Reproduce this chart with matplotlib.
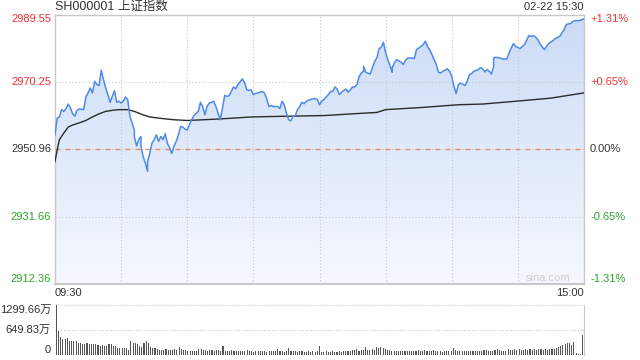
import matplotlib
matplotlib.use('Agg')
import matplotlib.pyplot as plt
import numpy as np
from matplotlib.colors import LinearSegmentedColormap

plt.rcParams['font.family'] = ['Liberation Sans', 'Noto Sans CJK SC', 'DejaVu Sans']

title = 'SH000001 上证指数'
stamp = '02-22 15:30'
prev_close = 2950.96
price_ticks = [2989.55, 2970.25, 2950.96, 2931.66, 2912.36]
pct_labels = ['+1.31%', '+0.65%', '0.00%', '-0.65%', '-1.31%']
tick_colors = ['#f0302f', '#f0302f', '#333333', '#2aa52a', '#2aa52a']
time_labels = ['09:30', '15:00']
vol_ticks = [1299.66, 649.83, 0]
vol_labels = ['1299.66万', '649.83万', '0']

# (minute since 09:30, price)
price_pts = [
    (0, 2955.1), (1, 2959.9), (2, 2960.2), (3, 2962.3), (4, 2961.8), (5, 2962.6), (6, 2963.9), (7, 2962.8), (8, 2961.1), (9, 2960.4),
    (10, 2962.1), (11, 2962.5), (13, 2962.3), (14, 2965.9), (15, 2967.1), (16, 2968.5), (17, 2967.1), (18, 2970.4), (19, 2969.5), (20, 2969.2),
    (21, 2973.6), (22, 2970.9), (23, 2968.5), (24, 2966.6), (25, 2964.4), (26, 2966.1), (27, 2967.7), (28, 2964.4), (29, 2964.7), (30, 2964.2),
    (31, 2964.7), (32, 2965.9), (33, 2965.2), (34, 2960.4), (35, 2958.5), (36, 2956.5), (36, 2954.6), (37, 2951.9), (38, 2953.7), (39, 2954.6),
    (39, 2951.8), (40, 2948.9), (41, 2947.0), (42, 2944.6), (42, 2947.4), (43, 2949.8), (44, 2952.7), (45, 2953.7), (46, 2955.1), (47, 2953.2),
    (48, 2954.6), (49, 2953.7), (50, 2955.4), (51, 2952.7), (52, 2951.3), (53, 2949.8), (54, 2951.9), (55, 2953.2), (56, 2955.1), (57, 2957.5),
    (58, 2957.3), (59, 2956.7), (60, 2956.5), (61, 2958.0), (62, 2959.4), (63, 2960.6), (65, 2961.8), (66, 2964.4), (67, 2963.2), (68, 2960.8),
    (69, 2963.2), (70, 2964.2), (71, 2964.4), (72, 2964.7), (73, 2963.2), (74, 2961.3), (75, 2959.4), (76, 2962.8), (77, 2966.4), (78, 2966.1),
    (79, 2966.3), (80, 2967.5), (81, 2968.8), (82, 2968.3), (83, 2969.5), (85, 2971.1), (86, 2970.1), (87, 2968.0), (88, 2967.8), (89, 2968.0),
    (90, 2966.6), (91, 2966.9), (92, 2967.1), (94, 2967.5), (95, 2967.1), (96, 2965.6), (97, 2963.2), (98, 2963.5), (99, 2963.2), (101, 2963.2),
    (102, 2962.6), (103, 2964.7), (104, 2963.7), (105, 2961.3), (106, 2959.4), (107, 2959.1), (108, 2960.4), (109, 2960.6), (110, 2962.3), (111, 2963.2),
    (112, 2964.4), (113, 2964.0), (114, 2964.7), (115, 2965.0), (116, 2965.2), (118, 2965.5), (119, 2965.2), (120, 2963.7), (121, 2964.7), (122, 2965.2),
    (123, 2965.9), (124, 2966.6), (125, 2967.5), (126, 2967.5), (127, 2968.8), (128, 2968.2), (129, 2966.6), (130, 2967.3), (131, 2967.8), (132, 2968.2),
    (133, 2967.3), (134, 2968.0), (135, 2968.8), (136, 2968.8), (137, 2969.5), (138, 2971.8), (139, 2972.8), (140, 2973.3), (140, 2974.7), (141, 2973.0),
    (143, 2972.5), (144, 2974.3), (145, 2976.1), (146, 2977.1), (147, 2979.7), (148, 2980.2), (149, 2981.6), (150, 2978.7), (151, 2976.6), (152, 2974.9),
    (153, 2973.0), (153, 2974.3), (154, 2975.7), (155, 2976.6), (157, 2975.9), (158, 2975.2), (159, 2976.4), (160, 2977.1), (162, 2977.1), (163, 2976.9),
    (164, 2979.5), (166, 2980.4), (167, 2980.9), (168, 2981.9), (169, 2980.4), (170, 2979.5), (171, 2978.1), (172, 2976.6), (173, 2975.2), (174, 2973.0),
    (175, 2972.8), (176, 2973.3), (178, 2974.0), (179, 2973.3), (180, 2971.8), (181, 2969.0), (182, 2966.9), (183, 2969.5), (184, 2969.9), (186, 2969.2),
    (187, 2970.4), (188, 2972.3), (189, 2972.6), (190, 2973.3), (191, 2973.5), (192, 2973.8), (193, 2974.3), (194, 2974.0), (195, 2973.1), (196, 2973.8),
    (197, 2973.3), (198, 2972.5), (199, 2974.7), (199, 2977.1), (200, 2977.3), (202, 2977.1), (203, 2976.8), (204, 2976.8), (205, 2976.8), (206, 2978.5),
    (207, 2980.0), (208, 2981.2), (209, 2980.4), (211, 2979.8), (212, 2980.4), (213, 2980.9), (214, 2982.2), (215, 2983.5), (216, 2983.3), (217, 2983.5),
    (218, 2983.1), (219, 2982.4), (220, 2981.2), (221, 2980.3), (222, 2979.5), (223, 2980.4), (224, 2981.2), (225, 2981.7), (226, 2982.1), (227, 2982.7),
    (228, 2982.9), (229, 2983.3), (230, 2984.3), (231, 2985.2), (232, 2986.7), (234, 2987.0), (235, 2987.6), (236, 2987.8), (237, 2987.8), (238, 2987.8),
    (240, 2988.3),
]

avg_pts = [
    (0, 2947.4), (1, 2950.8), (2, 2953.7), (4, 2955.6), (6, 2957.3), (8, 2957.9), (11, 2958.5), (14, 2959.2), (17, 2960.2),
    (20, 2961.1), (23, 2961.8), (26, 2962.1), (29, 2962.3), (33, 2962.3), (36, 2961.8), (40, 2960.8), (43, 2960.2), (48, 2959.8),
    (54, 2959.4), (60, 2959.2), (74, 2959.6), (89, 2960.2), (104, 2960.4), (122, 2960.6), (135, 2961.1), (146, 2961.5), (150, 2962.3),
    (166, 2962.9), (183, 2963.7), (194, 2963.9), (209, 2964.7), (225, 2965.6), (240, 2967.1),
]

# volume per minute, in 万
volume = [
    1299.66, 633, 477, 407, 407, 433, 373, 365, 365, 365,
    320, 303, 286, 286, 303, 286, 295, 286, 295, 260,
    234, 260, 243, 234, 286, 277, 243, 243, 173, 173,
    173, 182, 173, 130, 373, 303, 303, 277, 243, 217,
    303, 355, 303, 217, 173, 173, 147, 130, 130, 130,
    147, 130, 130, 130, 147, 130, 200, 147, 130, 130,
    110, 104, 110, 104, 104, 147, 147, 130, 120, 104,
    130, 130, 110, 130, 130, 104, 234, 110, 110, 104,
    120, 104, 95, 104, 95, 104, 110, 130, 104, 95,
    87, 95, 104, 110, 104, 95, 87, 104, 95, 104,
    95, 147, 104, 95, 87, 104, 173, 110, 95, 104,
    87, 95, 104, 87, 78, 95, 87, 104, 87, 95,
    234, 87, 87, 95, 87, 87, 95, 78, 87, 95,
    87, 104, 95, 110, 104, 120, 130, 147, 110, 120,
    130, 200, 130, 120, 147, 130, 217, 173, 200, 190,
    147, 130, 120, 104, 95, 104, 95, 104, 110, 95,
    104, 110, 104, 95, 110, 120, 110, 104, 120, 110,
    95, 104, 120, 110, 104, 95, 87, 95, 104, 110,
    95, 173, 130, 110, 95, 104, 110, 104, 95, 110,
    104, 95, 104, 95, 110, 120, 130, 110, 104, 95,
    130, 147, 130, 110, 104, 110, 147, 120, 130, 147,
    130, 147, 130, 120, 147, 130, 147, 130, 147, 120,
    147, 147, 130, 147, 130, 147, 160, 147, 173, 200,
    234, 260, 277, 303, 320, 260, 347, 40, 30, 30,
    520,
]

W, H = 640, 360
grid_c = '#c8c8c8'
text_c = '#333333'


def box(l, t, r, b):
    return [l / W, 1 - b / H, (r - l) / W, (b - t) / H]


fig = plt.figure(figsize=(6.4, 3.6), dpi=100)
ax = fig.add_axes(box(55, 14.5, 584, 284))
vx = fig.add_axes(box(55, 305, 584, 355))

px = np.array([p[0] for p in price_pts])
py = np.array([p[1] for p in price_pts])
ax_ = np.array([p[0] for p in avg_pts])
ay = np.array([p[1] for p in avg_pts])
lo, hi = price_ticks[-1], price_ticks[0]

# gradient fill under the price line
fade = LinearSegmentedColormap.from_list('fade', ['#f5f8fe', '#cbdbf6'])
grad = np.linspace(0, 1, 256).reshape(-1, 1)
img = ax.imshow(grad, extent=[0, 240, lo, hi], origin='lower', aspect='auto', cmap=fade, zorder=1)
poly = ax.fill_between(px, py, lo, color='none', lw=0)
img.set_clip_path(poly.get_paths()[0], transform=ax.transData)

for m in range(30, 240, 30):
    ax.axvline(m, color=grid_c, lw=0.8, ls=(0, (1, 2)), zorder=2)
for v in price_ticks[1:-1]:
    ax.axhline(v, color=grid_c, lw=0.8, ls=(0, (1, 2)), zorder=2)
ax.axhline(prev_close, color='#e0916a', lw=1.0, ls=(0, (3.6, 3.6)), zorder=2)

ax.plot(px, py, color='#4f8ae8', lw=1.1, zorder=4)
ax.plot(ax_, ay, color='#2b2b2b', lw=1.0, zorder=3)

ax.set_xlim(0, 240)
ax.set_ylim(lo, hi)
ax.set_xticks([])
ax.set_yticks([])
for s in ax.spines.values():
    s.set_color(grid_c)
    s.set_linewidth(1)
ax.spines['bottom'].set_linewidth(1.5)

tr = ax.get_yaxis_transform()
vas = ['top', 'center', 'center', 'center', 'bottom']
for v, lab, c, va in zip(price_ticks, pct_labels, tick_colors, vas):
    ax.text(-4 / 529, v, f'{v:.2f}', transform=tr, ha='right', va=va, color=c, fontsize=8)
    ax.text(1 + 6 / 529, v, lab, transform=tr, ha='left', va=va, color=c, fontsize=8)

ax.text(0.975, 0.005, 'sina.com', transform=ax.transAxes, ha='right', va='bottom', color='#cfcfcf', fontsize=8)

fig.text(55 / W, 1 - 7 / H, title, ha='left', va='center', color=text_c, fontsize=9)
fig.text(584 / W, 1 - 7 / H, stamp, ha='right', va='center', color=text_c, fontsize=8)
fig.text(55 / W, 1 - 293 / H, time_labels[0], ha='left', va='center', color=text_c, fontsize=8)
fig.text(584 / W, 1 - 293 / H, time_labels[1], ha='right', va='center', color=text_c, fontsize=8)

# volume panel
vx.bar(np.arange(len(volume)), volume, width=0.5, color='#555555', zorder=3)
vx.set_xlim(-0.6, 240.6)
vx.set_ylim(0, vol_ticks[0])
for v in vol_ticks[:2]:
    vx.axhline(v, color=grid_c, lw=0.8, ls=(0, (1, 1.5)), clip_on=False, zorder=1)
vx.set_xticks([])
vx.set_yticks([])
for k in ['left', 'top', 'bottom']:
    vx.spines[k].set_visible(False)
vx.spines['right'].set_color(grid_c)
vtr = vx.get_yaxis_transform()
for v, lab, va in zip(vol_ticks, vol_labels, ['top', 'center', 'bottom']):
    vx.text(-4 / 529, v, lab, transform=vtr, ha='right', va=va, color=text_c, fontsize=8)

fig.savefig('out.png', dpi=100)
